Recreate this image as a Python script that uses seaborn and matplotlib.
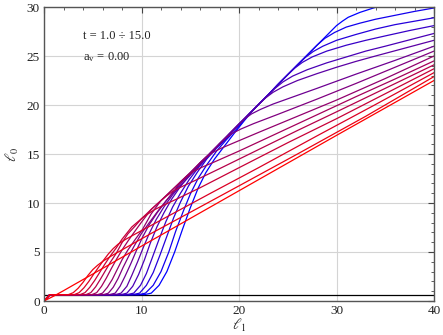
import matplotlib
matplotlib.use("Agg")
import numpy as np
import pandas as pd
import seaborn as sns
import matplotlib.pyplot as plt
from matplotlib.ticker import MultipleLocator

# temperatures of the curve family (blue -> red)
t_values = [1.0, 2.0, 3.0, 4.0, 5.0, 6.0, 7.0, 8.0, 9.0, 10.0, 11.0, 12.0, 13.0, 14.0, 15.0]
plateau_level = 0.65

# common upper envelope
env_x = [0, 1, 2, 3, 4, 5, 6, 7, 8, 9, 10, 11, 12, 13, 14, 15, 16, 17, 18, 19, 20,
         21, 22, 23, 24, 25, 26, 27, 28, 29, 30]
env_y = [0, 0.75, 1.5, 2.3, 3.1, 3.95, 4.85, 5.75, 6.65, 7.55, 8.4, 9.35, 10.25, 11.2,
         12.15, 13.1, 14.1, 15.05, 16.05, 17.05, 18.05, 19.05, 20.05, 21.05, 22.1, 23.1,
         24.1, 25.1, 26.1, 27.1, 28.1]

# end of the low plateau for each curve (None = no plateau)
plateau_end = [10.3, 9.7, 9.1, 8.5, 7.9, 7.3, 6.7, 6.1, 5.5, 4.9, 4.3, 3.7, 3.1, 2.5, None]

# rise from the plateau towards the envelope
rise = [
    [(11.0, 0.8), (11.8, 1.6), (12.6, 3.0), (13.4, 5.0), (14.2, 7.3), (15.0, 9.5), (15.8, 11.5),
     (16.6, 13.1), (17.5, 14.5), (18.5, 15.8), (19.5, 17.1), (20.5, 18.35), (21.3, 19.3)],
    [(10.4, 0.8), (11.2, 1.6), (12.0, 3.0), (12.8, 5.0), (13.5, 7.1), (14.3, 9.2), (15.0, 10.9),
     (15.8, 12.5), (16.7, 13.9), (17.7, 15.3), (18.7, 16.45), (19.7, 17.5), (20.6, 18.55)],
    [(9.8, 0.8), (10.5, 1.6), (11.2, 2.9), (11.9, 4.7), (12.6, 6.6), (13.3, 8.5), (14.0, 10.1),
     (14.8, 11.7), (15.7, 13.1), (16.7, 14.5), (17.7, 15.6), (18.7, 16.55), (19.5, 17.5)],
    [(9.2, 0.8), (9.9, 1.6), (10.5, 2.8), (11.1, 4.4), (11.8, 6.3), (12.5, 8.1), (13.2, 9.6),
     (14.0, 11.0), (14.9, 12.4), (15.9, 13.7), (16.9, 14.85), (17.9, 15.9), (18.7, 16.65)],
    [(8.5, 0.8), (9.1, 1.5), (9.7, 2.7), (10.3, 4.2), (10.9, 5.9), (11.6, 7.6), (12.3, 9.0),
     (13.1, 10.4), (14.0, 11.7), (15.0, 12.9), (16.0, 13.95), (17.0, 14.95), (17.8, 15.8)],
    [(7.9, 0.8), (8.5, 1.5), (9.0, 2.6), (9.6, 4.0), (10.2, 5.5), (10.8, 6.9), (11.5, 8.3),
     (12.3, 9.6), (13.2, 10.85), (14.2, 12.0), (15.2, 13.05), (16.0, 13.9), (16.7, 14.6)],
    [(7.3, 0.8), (7.8, 1.5), (8.3, 2.5), (8.9, 3.8), (9.5, 5.2), (10.1, 6.5), (10.8, 7.8),
     (11.6, 9.0), (12.5, 10.2), (13.4, 11.25), (14.3, 12.3), (15.0, 12.95)],
    [(6.6, 0.8), (7.1, 1.4), (7.6, 2.3), (8.1, 3.4), (8.7, 4.6), (9.3, 5.7), (10.0, 6.9),
     (10.8, 8.0), (11.7, 9.2), (12.6, 10.3), (13.4, 11.3)],
    [(6.0, 0.8), (6.5, 1.4), (7.0, 2.2), (7.5, 3.2), (8.0, 4.2), (8.6, 5.2), (9.3, 6.2),
     (10.1, 7.3), (11.0, 8.9)],
    [(5.4, 0.85), (5.9, 1.5), (6.4, 2.35), (6.9, 3.3), (7.4, 4.2), (8.0, 5.2), (8.6, 6.1),
     (9.2, 6.95), (10.0, 8.05)],
    [(4.8, 0.85), (5.3, 1.45), (5.8, 2.25), (6.3, 3.1), (6.8, 3.95), (7.4, 4.85), (8.0, 5.95),
     (8.6, 6.85), (9.3, 7.6)],
    [(4.2, 0.85), (4.7, 1.4), (5.2, 2.1), (5.7, 2.9), (6.2, 3.7), (6.8, 4.6), (7.4, 5.4), (8.0, 6.3)],
    [(3.6, 0.85), (4.1, 1.35), (4.6, 2.0), (5.1, 2.75), (5.6, 3.45), (6.1, 4.15), (6.6, 4.8)],
    [(3.0, 0.85), (3.5, 1.3), (4.0, 1.9), (4.5, 2.6), (5.0, 3.2)],
    [],
]

# part of the envelope each curve runs along (first, last x), None = skip
env_span = [(22, 30), (21, 28), (20, 26), (19, 25), (18, 23), (17, 22), (16, 20), (14, 18),
            (12, 16), (11, 14), (10, 12), (9, 10), None, None, None]

# branch leaving the envelope, out to the right frame
tail = [
    [(30.6, 28.55), (31.2, 28.95), (32.4, 29.45), (34.1, 30.0), (36.0, 30.5)],
    [(28.8, 26.8), (29.8, 27.4), (31.0, 27.95), (32.4, 28.35), (34.0, 28.75), (36.0, 29.15),
     (38.0, 29.55), (40.0, 29.9)],
    [(26.8, 24.85), (27.6, 25.45), (28.6, 26.0), (30.0, 26.6), (32.0, 27.2), (34.0, 27.75),
     (36.0, 28.2), (38.0, 28.55), (40.0, 28.9)],
    [(25.7, 23.75), (26.5, 24.35), (27.5, 24.9), (29.0, 25.5), (31.0, 26.1), (33.0, 26.6),
     (35.0, 27.05), (37.5, 27.6), (40.0, 28.1)],
    [(23.7, 21.7), (24.5, 22.35), (25.5, 22.95), (27.0, 23.6), (29.0, 24.3), (31.0, 24.9),
     (33.0, 25.5), (35.0, 26.0), (37.5, 26.65), (40.0, 27.3)],
    [(22.7, 20.7), (23.5, 21.3), (24.5, 21.85), (26.0, 22.5), (28.0, 23.2), (30.0, 23.85),
     (32.0, 24.45), (34.0, 25.0), (37.0, 25.8), (40.0, 26.6)],
    [(20.6, 18.6), (21.3, 19.1), (22.2, 19.55), (23.5, 20.1), (28.0, 21.7), (32.0, 23.15),
     (36.0, 24.55), (40.0, 26.0)],
    [(18.6, 16.6), (19.3, 17.1), (20.2, 17.55), (21.5, 18.1), (24.0, 19.05), (28.0, 20.6),
     (32.0, 22.2), (36.0, 23.85), (40.0, 25.5)],
    [(16.6, 14.65), (17.3, 15.15), (18.2, 15.6), (19.5, 16.15), (22.0, 17.2), (26.0, 18.85),
     (30.0, 20.5), (35.0, 22.7), (40.0, 25.0)],
    [(14.6, 12.7), (15.3, 13.2), (16.2, 13.65), (17.5, 14.2), (20.0, 15.3), (24.0, 17.15),
     (28.0, 19.0), (32.0, 20.85), (36.0, 22.65), (40.0, 24.5)],
    [(12.6, 10.75), (13.3, 11.25), (14.2, 11.7), (15.5, 12.3), (18.0, 13.5), (22.0, 15.45),
     (26.0, 17.4), (30.0, 19.3), (35.0, 21.7), (40.0, 24.1)],
    [(10.6, 8.85), (11.3, 9.3), (12.2, 9.75), (13.5, 10.35), (16.0, 11.55), (20.0, 13.6),
     (25.0, 16.15), (30.0, 18.6), (35.0, 21.15), (40.0, 23.7)],
    [(7.1, 5.35), (7.6, 5.8), (8.3, 6.25), (9.2, 6.75), (10.5, 7.45), (13.0, 8.8), (17.0, 10.95),
     (22.0, 13.6), (28.0, 16.85), (34.0, 20.05), (40.0, 23.3)],
    [(5.5, 3.65), (6.1, 4.1), (7.0, 4.65), (8.5, 5.5), (11.0, 6.9), (15.0, 9.05), (20.0, 11.75),
     (26.0, 15.0), (33.0, 18.85), (40.0, 22.9)],
    [(1.0, 0.5), (2.0, 1.05), (3.0, 1.62), (5.0, 2.75), (10.0, 5.6), (20.0, 11.25), (30.0, 16.9),
     (40.0, 22.5)],
]

# reference line (black)
ref_x = [0, 40]
ref_y = [0.65, 0.65]

sns.set_style("white")
plt.rcParams["font.family"] = ["Liberation Serif", "DejaVu Serif"]
plt.rcParams["mathtext.fontset"] = "stix"

fig = plt.figure(figsize=(4.43, 3.35), dpi=100)
ax = fig.add_axes([44 / 443, 34 / 335, 390 / 443, 294 / 335])

sns.lineplot(x=ref_x, y=ref_y, color="black", lw=0.9, ax=ax)

n = len(t_values)
for k in range(n):
    pts = [(0.0, 0.0)]
    if plateau_end[k] is not None:
        pts += [(0.6, plateau_level), (plateau_end[k], plateau_level)]
    pts += rise[k]
    if env_span[k] is not None:
        lo, hi = env_span[k]
        pts += [(x, y) for x, y in zip(env_x, env_y) if lo <= x <= hi]
    pts += tail[k]
    df = pd.DataFrame(pts, columns=["l1", "l0"])
    f = k / (n - 1)
    sns.lineplot(data=df, x="l1", y="l0", sort=False, estimator=None,
                 color=(f, 0.0, 1.0 - f), lw=0.9, ax=ax)

ax.set_xlim(0, 40)
ax.set_ylim(0, 30)
ax.xaxis.set_major_locator(MultipleLocator(10))
ax.xaxis.set_minor_locator(MultipleLocator(2))
ax.yaxis.set_major_locator(MultipleLocator(5))
ax.yaxis.set_minor_locator(MultipleLocator(1))
ax.grid(True, which="major", color="#d4d4d4", lw=0.8)
ax.set_axisbelow(True)
ax.tick_params(which="both", direction="in", top=True, right=True, colors="#444444",
               labelcolor="#222222", labelsize=9.5)
ax.tick_params(which="major", length=4, width=0.8, pad=3)
ax.tick_params(which="minor", length=2, width=0.6)
for s in ax.spines.values():
    s.set_color("#555555")
    s.set_linewidth(1.0)

ax.set_xlabel(r"$\ell_1$", fontsize=10.5, labelpad=0)
ax.set_ylabel(r"$\ell_0$", fontsize=10.5, labelpad=4)

ax.text(4.0, 27.0, "t = 1.0 ÷ 15.0", fontsize=9, va="center", color="#222222")
ax.text(4.0, 24.9, r"a$_\mathregular{v}$ = 0.00", fontsize=9, va="center", color="#222222")

fig.savefig("out.png", dpi=100)
